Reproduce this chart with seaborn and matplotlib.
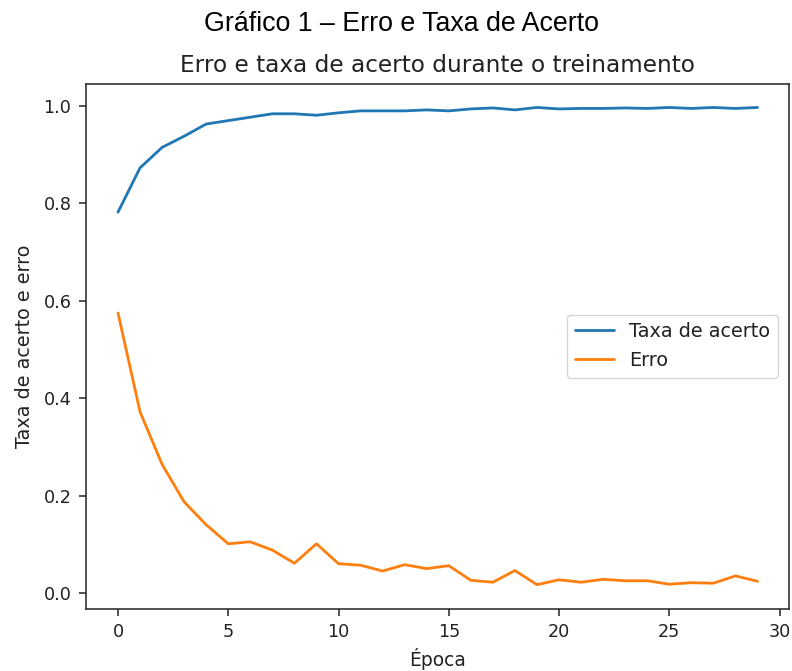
import matplotlib
matplotlib.use("Agg")
import matplotlib.pyplot as plt
import seaborn as sns
import pandas as pd

# Training history: accuracy and loss per epoch
epocas = list(range(30))
taxa_acerto = [0.782, 0.873, 0.915, 0.938, 0.963, 0.970, 0.977, 0.984, 0.984, 0.981,
               0.986, 0.990, 0.990, 0.990, 0.992, 0.990, 0.994, 0.996, 0.992, 0.997,
               0.994, 0.995, 0.995, 0.996, 0.995, 0.997, 0.995, 0.997, 0.995, 0.997]
erro = [0.575, 0.372, 0.264, 0.187, 0.140, 0.101, 0.105, 0.088, 0.061, 0.101,
        0.060, 0.057, 0.045, 0.058, 0.050, 0.056, 0.026, 0.022, 0.046, 0.017,
        0.027, 0.022, 0.028, 0.025, 0.025, 0.018, 0.021, 0.020, 0.035, 0.024]
series = ["Taxa de acerto", "Erro"]
cores = ["#1f77b4", "#ff7f0e"]

df = pd.DataFrame({
    "Época": epocas * 2,
    "valor": taxa_acerto + erro,
    "serie": [series[0]] * len(epocas) + [series[1]] * len(epocas),
})

sns.set_style("ticks")
plt.rcParams["font.family"] = ["DejaVu Sans"]
plt.rcParams["font.size"] = 12.7
plt.rcParams["axes.linewidth"] = 1.1
plt.rcParams["xtick.major.size"] = 5.0
plt.rcParams["ytick.major.size"] = 5.0
plt.rcParams["xtick.major.width"] = 1.1
plt.rcParams["ytick.major.width"] = 1.1
plt.rcParams["xtick.major.pad"] = 5.5
plt.rcParams["ytick.major.pad"] = 5.5
plt.rcParams["axes.edgecolor"] = "#222222"
plt.rcParams["text.color"] = "#222222"
plt.rcParams["xtick.color"] = "#222222"
plt.rcParams["ytick.color"] = "#222222"
plt.rcParams["axes.labelcolor"] = "#222222"

fig = plt.figure(figsize=(7.92, 6.71), dpi=100)
ax = fig.add_axes([0.1086, 0.0931, 0.8882, 0.7823])

sns.lineplot(data=df, x="Época", y="valor", hue="serie", hue_order=series,
             palette=cores, linewidth=2.0, ax=ax, legend=False)

for nome, cor in zip(series, cores):
    ax.plot([], [], color=cor, linewidth=2.0, label=nome)

ax.margins(x=0.05, y=0.05)
ax.set_xticks([0, 5, 10, 15, 20, 25, 30])
ax.set_yticks([0.0, 0.2, 0.4, 0.6, 0.8, 1.0])
ax.tick_params(labelsize=12.7)
ax.set_xlabel("Época", fontsize=13.4, labelpad=5)
ax.set_ylabel("Taxa de acerto e erro", fontsize=13.8, labelpad=7)
ax.set_title("Erro e taxa de acerto durante o treinamento", fontsize=16.7, pad=8)
ax.legend(loc="center right", fontsize=13.9, frameon=True, framealpha=0.8,
          edgecolor="#cccccc", fancybox=True, borderaxespad=0.6)

fig.text(0.507, 0.954, "Gráfico 1 – Erro e Taxa de Acerto", ha="center",
         va="baseline", fontsize=19.3, family=["Liberation Sans", "DejaVu Sans"],
         color="black")

fig.savefig("out.png", dpi=100)
